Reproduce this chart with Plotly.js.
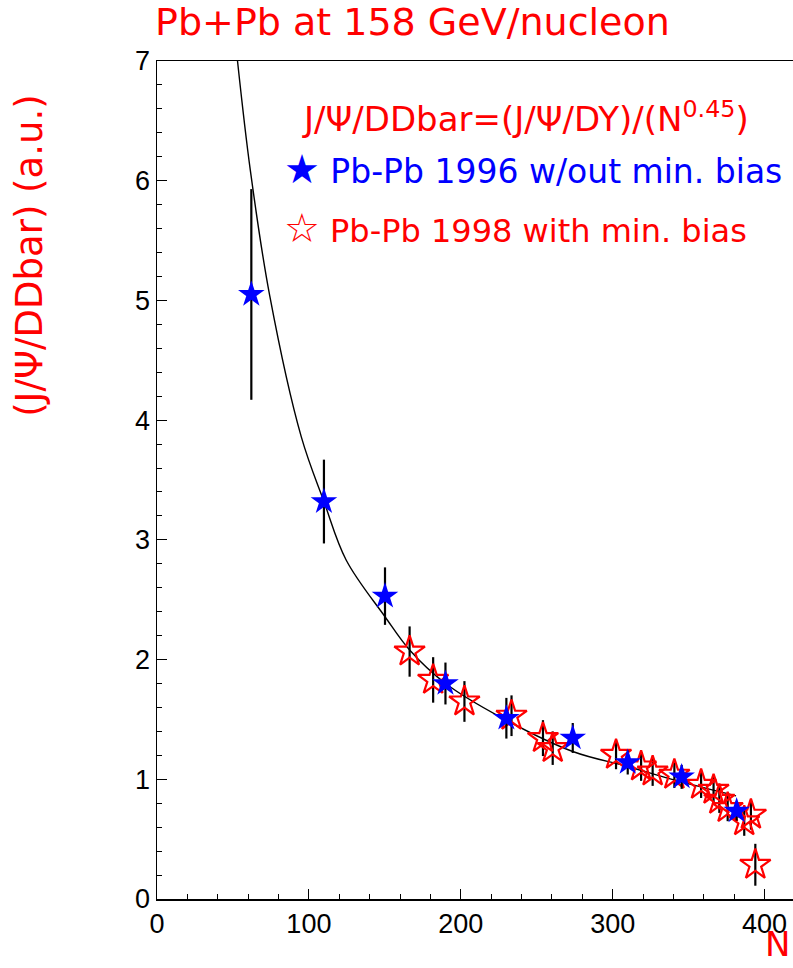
<!DOCTYPE html>
<html>
<head>
<meta charset="utf-8">
<script src="https://cdn.plot.ly/plotly-3.0.1.min.js"></script>
<style>
  html, body { margin: 0; padding: 0; background: #fff; }
  #chart { width: 793px; height: 968px; }
</style>
</head>
<body>
<div id="chart"></div>
<script>
// Number of participants N and the J/psi / open-charm ratio (arbitrary units)

// Pb-Pb 1996 sample (without minimum bias)
const n1996   = [62.1, 109.9, 150.1, 189.9, 230.0, 273.7, 309.9, 345.4, 381.6];
const r1996   = [5.05, 3.32, 2.53, 1.80, 1.51, 1.345, 1.14, 1.02, 0.735];
const err1996 = [0.88, 0.35, 0.24, 0.175, 0.17, 0.125, 0.10, 0.10, 0.08];

// Pb-Pb 1998 sample (with minimum bias)
const n1998   = [166.3, 181.8, 202.4, 233.4, 254.1, 260.5, 302.2, 318.7, 326.3, 340.6,
                 358.2, 366.4, 370.2, 375.7, 386.6, 391.0, 393.9];
const r1998   = [2.067, 1.83, 1.65, 1.531, 1.344, 1.26, 1.204, 1.107, 1.065, 1.038,
                 0.954, 0.912, 0.829, 0.76, 0.648, 0.704, 0.286];
const err1998 = [0.21, 0.19, 0.17, 0.17, 0.15, 0.14, 0.12, 0.12, 0.12, 0.11,
                 0.11, 0.11, 0.11, 0.11, 0.12, 0.125, 0.175];

// Fitted curve, sampled along N
const fitN = [53.0, 61.4, 74.2, 95.0, 109.9, 124.6, 150.0, 166.3, 190.0, 225.5, 273.7, 309.9, 343.9, 381.2];
const fitR = [7.0, 6.09, 5.04, 3.86, 3.32, 2.83, 2.36, 2.08, 1.80, 1.524, 1.232, 1.107, 0.982, 0.862];

// Axis ticks
const xTicks = [0, 100, 200, 300, 400];
const yTicks = [0, 1, 2, 3, 4, 5, 6, 7];

// Text
const titleText  = 'Pb+Pb at 158 GeV/nucleon';
const yTitleText = '(J/\u03A8/DDbar) (a.u.)';
const xTitleText = 'N';
const formulaText = 'J/\u03A8/DDbar=(J/\u03A8/DY)/(N<sup>0.45</sup>)';
const label1996 = '<span style="font-size:40px">\u2605</span> Pb-Pb 1996 w/out min. bias';
const label1998 = '<span style="font-size:40px">\u2606</span> Pb-Pb 1998 with min. bias';

const textFont = 'DejaVu Sans, Liberation Sans, sans-serif';
const tickFontFamily = 'Liberation Sans, Arial, sans-serif';

const traces = [
  {
    x: fitN, y: fitR, type: 'scatter', mode: 'lines',
    line: { color: 'black', width: 1.4, shape: 'spline', smoothing: 1 },
    hoverinfo: 'skip', showlegend: false
  },
  {
    x: n1998, y: r1998, type: 'scatter', mode: 'markers',
    error_y: { type: 'data', array: err1998, visible: true, color: 'black', thickness: 2.2, width: 0 },
    marker: { symbol: 'star-open', size: 23, color: 'red', line: { color: 'red', width: 2.2 } },
    showlegend: false
  },
  {
    x: n1996, y: r1996, type: 'scatter', mode: 'markers',
    error_y: { type: 'data', array: err1996, visible: true, color: 'black', thickness: 2.2, width: 0 },
    marker: { symbol: 'star', size: 20, color: 'blue', line: { width: 0 } },
    showlegend: false
  }
];

const axisCommon = {
  showgrid: false, zeroline: false,
  showline: true, linecolor: 'black', linewidth: 1.5,
  ticks: 'inside', ticklen: 10, tickwidth: 1, tickcolor: 'black',
  tickfont: { family: tickFontFamily, size: 27, color: 'black' }
};

const layout = {
  width: 793, height: 968,
  margin: { l: 157, r: 0, t: 61, b: 69 },
  paper_bgcolor: 'white', plot_bgcolor: 'white',
  showlegend: false,
  title: {
    text: titleText,
    font: { family: textFont, size: 38, color: 'red' },
    xref: 'container', yref: 'container',
    x: 155 / 793, xanchor: 'left',
    y: 1 - 8 / 968, yanchor: 'top',
    pad: { t: 0, b: 0, l: 0, r: 0 }
  },
  xaxis: Object.assign({}, axisCommon, {
    range: [0, 418.7], tickvals: xTicks, ticktext: xTicks.map(String),
    mirror: true,
    minor: { dtick: 20, tick0: 0, ticks: 'inside', ticklen: 5, tickcolor: 'black', tickwidth: 1 }
  }),
  yaxis: Object.assign({}, axisCommon, {
    range: [0, 7], tickvals: yTicks, ticktext: yTicks.map(String),
    minor: { dtick: 0.2, tick0: 0, ticks: 'inside', ticklen: 5, tickcolor: 'black', tickwidth: 1 }
  }),
  annotations: [
    {
      text: yTitleText, textangle: -90,
      xref: 'paper', yref: 'paper', x: -0.1997, y: 0.962,
      xanchor: 'center', yanchor: 'top', showarrow: false,
      font: { family: textFont, size: 37, color: 'red' }
    },
    {
      text: xTitleText,
      xref: 'paper', yref: 'paper', x: 0.999, y: -0.0802,
      xanchor: 'right', yanchor: 'bottom', showarrow: false,
      font: { family: textFont, size: 34, color: 'red' }
    },
    {
      text: formulaText,
      xref: 'paper', yref: 'paper', x: 0.2255, y: 0.933,
      xanchor: 'left', yanchor: 'middle', showarrow: false,
      font: { family: textFont, size: 34, color: 'red' }
    },
    {
      text: label1996,
      xref: 'paper', yref: 'paper', x: 0.1965, y: 0.871,
      xanchor: 'left', yanchor: 'middle', showarrow: false,
      font: { family: textFont, size: 33, color: 'blue' }
    },
    {
      text: label1998,
      xref: 'paper', yref: 'paper', x: 0.1965, y: 0.8007,
      xanchor: 'left', yanchor: 'middle', showarrow: false,
      font: { family: textFont, size: 32, color: 'red' }
    }
  ]
};

Plotly.newPlot('chart', traces, layout, { staticPlot: true, displayModeBar: false });
</script>
</body>
</html>
